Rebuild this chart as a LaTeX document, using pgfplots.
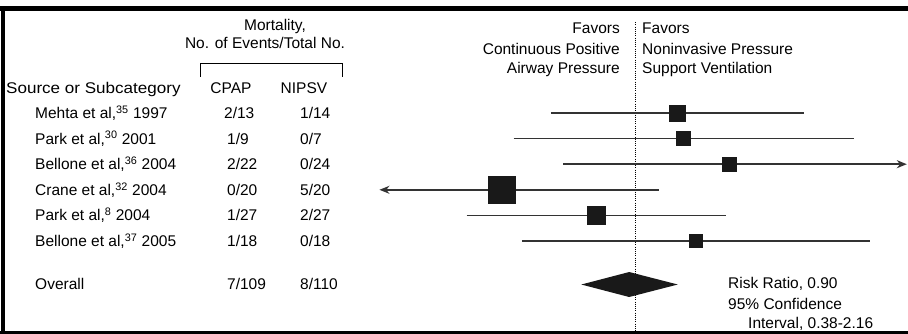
\documentclass[border=0pt]{standalone}
\usepackage{fontspec}
\setmainfont{Liberation Sans}
\usepackage{pgfplots}
\usepackage{pgfplotstable}
\usetikzlibrary{arrows.meta}
\pgfplotsset{compat=1.18}

% study rows: risk ratio, 95% CI (drawn ends), marker side (px)
\pgfplotstableread{
row rr lo hi sz
1 2.15 0.22 21.0 16
2 2.40 0.112 51.3 14
3 5.43 0.275 134 14
4 0.091 0.0100 1.54 27
5 0.50 0.048 5.19 18
6 3.00 0.130 69 13
}\studies

\begin{document}
\begin{tikzpicture}[x=1pt, y=1pt, every node/.style={font=\fontsize{15.5}{18}\selectfont, inner sep=0pt}]
\begin{axis}[at={(0pt,0pt)}, anchor=south west, scale only axis,
  width=908pt, height=334pt,
  xmode=log, xmin=1.072e-5, xmax=136.9,
  ymin=-3.414, ymax=9.633, y dir=reverse,
  hide axis, clip=false,
  ci/.style={black!80, line width=1.5pt}]
% reference line
\addplot[black, line width=1pt, dash pattern=on 1pt off 1.2pt] coordinates {(1,-2.55) (1,9.633)};
% confidence intervals
\addplot[ci] coordinates {(0.22,1) (21.0,1)};
\addplot[ci] coordinates {(0.112,2) (51.3,2)};
\addplot[ci, -{Stealth[length=10pt,width=8pt]}] coordinates {(0.275,3) (134,3)};
\addplot[ci, {Stealth[length=10pt,width=8pt]}-] coordinates {(0.0100,4) (1.54,4)};
\addplot[ci] coordinates {(0.048,5) (5.19,5)};
\addplot[ci] coordinates {(0.130,6) (69,6)};
% point estimates
\addplot[scatter, only marks, mark=square*,
  scatter/use mapped color={draw=black!90, fill=black!90},
  point meta=\thisrow{sz},
  visualization depends on={\thisrow{sz}/2 \as \msz},
  scatter/@pre marker code/.append style={/tikz/mark size=\msz, /tikz/line width=0pt}]
  table[x=rr, y=row]{\studies};
% overall diamond
\addplot[fill=black!90, draw=none] coordinates {(0.38,7.70) (0.90,7.212) (2.16,7.70) (0.90,8.188)} -- cycle;
\end{axis}

% frame
\fill[black] (0,323) rectangle (908,328);
\fill[black] (1,0) rectangle (5,328);
\fill[black] (0,0) rectangle (908,2.5);

% left headers
\node[anchor=base] at (275,303.5) {Mortality,};
\node[anchor=base] at (265,285.5) {No. of Events/Total No.};
\draw[line width=1pt] (200,257) -- (200,270) -- (342,270) -- (342,257);
\node[anchor=base west] at (6,240.5) {\scalebox{1.1}[1]{Source or Subcategory}};
\node[anchor=base] at (231,240.5) {CPAP};
\node[anchor=base] at (304,240.5) {NIPSV};

% rows
\node[anchor=base west] at (35,215.5) {Mehta et al,\textsuperscript{35} 1997};
\node[anchor=base west] at (35,189.9) {Park et al,\textsuperscript{30} 2001};
\node[anchor=base west] at (35,164.3) {Bellone et al,\textsuperscript{36} 2004};
\node[anchor=base west] at (35,138.7) {Crane et al,\textsuperscript{32} 2004};
\node[anchor=base west] at (35,113.1) {Park et al,\textsuperscript{8} 2004};
\node[anchor=base west] at (35,87.5) {Bellone et al,\textsuperscript{37} 2005};
\node[anchor=base west] at (35,44) {Overall};

\node[anchor=base west] at (224,215.5) {2/13};
\node[anchor=base west] at (227,189.9) {1/9};
\node[anchor=base west] at (227,164.3) {2/22};
\node[anchor=base west] at (227,138.7) {0/20};
\node[anchor=base west] at (227,113.1) {1/27};
\node[anchor=base west] at (227,87.5) {1/18};
\node[anchor=base west] at (227,44) {7/109};

\node[anchor=base west] at (300,215.5) {1/14};
\node[anchor=base west] at (300,189.9) {0/7};
\node[anchor=base west] at (300,164.3) {0/24};
\node[anchor=base west] at (300,138.7) {5/20};
\node[anchor=base west] at (300,113.1) {2/27};
\node[anchor=base west] at (300,87.5) {0/18};
\node[anchor=base west] at (300,44) {8/110};

% favors headers
\node[anchor=base east] at (620,300.5) {Favors};
\node[anchor=base east] at (620,279.5) {Continuous Positive};
\node[anchor=base east] at (620,260.5) {Airway Pressure};
\node[anchor=base west] at (642,300.5) {Favors};
\node[anchor=base west] at (642,279.5) {Noninvasive Pressure};
\node[anchor=base west] at (642,260.5) {Support Ventilation};

% summary
\node[anchor=base west] at (728,45.5) {Risk Ratio, 0.90};
\node[anchor=base west] at (728,24.5) {95\% Confidence};
\node[anchor=base west] at (748,5.5) {Interval, 0.38-2.16};

\pgfresetboundingbox
\path[use as bounding box] (0,0) rectangle (908,334);
\end{tikzpicture}
\end{document}
